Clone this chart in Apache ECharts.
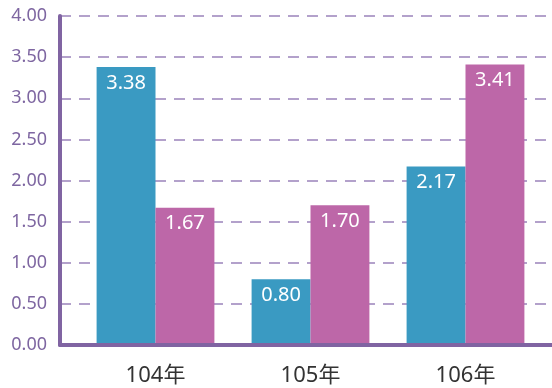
<!DOCTYPE html>
<html><head><meta charset="utf-8">
<script src="https://cdn.jsdelivr.net/npm/echarts@6/dist/echarts.min.js"></script>
<style>html,body{margin:0;padding:0;background:#fff}#c{width:552px;height:388px}</style>
</head><body><div id="c"></div>
<script>
const categories = ['104年', '105年', '106年'];
const seriesA = [3.38, 0.80, 2.17];
const seriesB = [1.67, 1.70, 3.41];
const yTicks = [0, 0.5, 1, 1.5, 2, 2.5, 3, 3.5, 4];

const purple = '#8064a2';
const font = '"Noto Sans", "Noto Sans CJK TC", sans-serif';
const chart = echarts.init(document.getElementById('c'), null, {renderer: 'canvas'});
const lbl = {show: true, position: 'insideTop', distance: 6, color: '#fff', fontSize: 20, fontFamily: font,
  formatter: p => p.value.toFixed(2)};
chart.setOption({
  animation: false,
  grid: [
    {left: 78, right: 9, top: 16, bottom: 43},
    {left: 60, right: 0, top: 16, bottom: 43}
  ],
  xAxis: [
    {type: 'category', gridIndex: 0, data: categories,
     axisLine: {show: false}, axisTick: {show: false},
     axisLabel: {color: '#333', fontSize: 22, fontFamily: font, margin: 20}},
    {type: 'value', gridIndex: 1, min: 0, max: 1, z: 10,
     axisLine: {show: true, lineStyle: {color: purple, width: 4}},
     axisTick: {show: false}, axisLabel: {show: false}, splitLine: {show: false}}
  ],
  yAxis: [
    {type: 'value', gridIndex: 0, min: 0, max: 4, interval: 0.5, show: false, splitLine: {show: false}},
    {type: 'value', gridIndex: 1, min: 0, max: 4, interval: 0.5,
     axisLine: {show: true, lineStyle: {color: purple, width: 4, cap: 'round'}},
     axisTick: {show: false},
     axisLabel: {color: '#7e66a1', fontSize: 18, fontFamily: font, margin: 13,
       formatter: v => yTicks.includes(v) ? v.toFixed(2) : ''},
     splitLine: {show: true, lineStyle: {color: '#9a83bb', width: 1.5, type: [11, 8]}}}
  ],
  series: [
    {type: 'bar', xAxisIndex: 0, yAxisIndex: 0, data: seriesA, barGap: '0%', barCategoryGap: '24%',
     itemStyle: {color: '#3a9ac2'}, label: lbl},
    {type: 'bar', xAxisIndex: 0, yAxisIndex: 0, data: seriesB, barGap: '0%', barCategoryGap: '24%',
     itemStyle: {color: '#bd67a8'}, label: lbl}
  ]
});
</script></body></html>
